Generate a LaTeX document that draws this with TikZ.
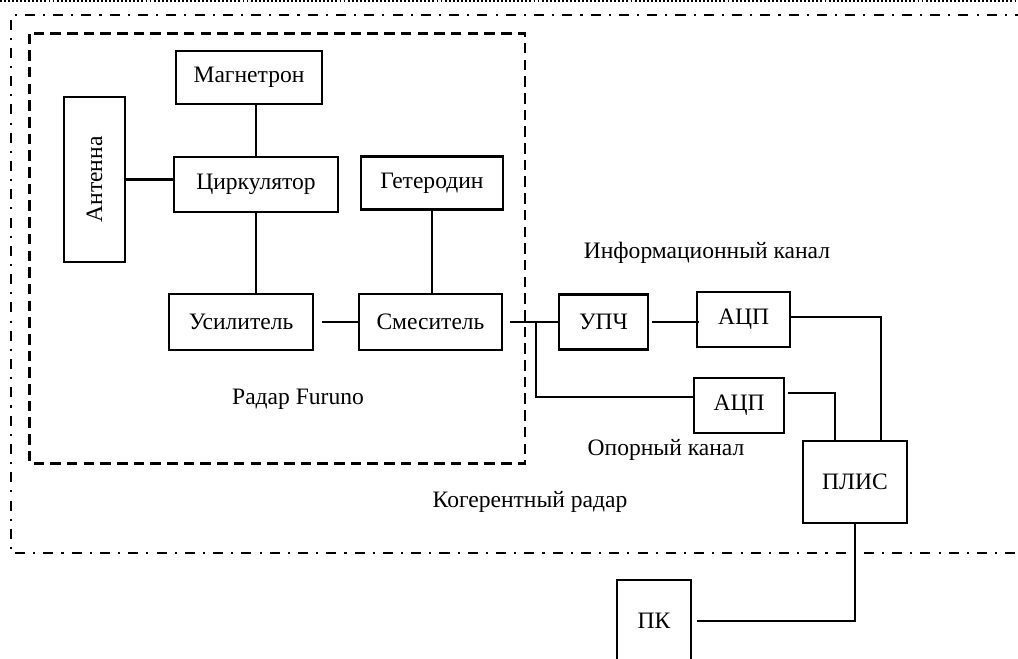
\documentclass[tikz,border=0pt]{standalone}
\usepackage{fontspec}
\setmainfont{Liberation Serif}
\begin{document}
\begin{tikzpicture}[font=\fontsize{13.4}{16}\selectfont, line width=1.6pt,
  blk/.style={draw, rectangle, inner sep=0pt},
  dashdot/.style={dash pattern=on 5.7pt off 4.6pt on 1.2pt off 4.6pt},
  boxdash/.style={dash pattern=on 6pt off 3.5pt}]
\useasboundingbox (0,0) rectangle (20.36,-13.16);
\draw[line width=1.1pt, dash pattern=on 1.1pt off 1.2pt] (0,-0.02) -- (20.36,-0.02);
\draw[dashdot] (20.5,-0.30) -- (0.22,-0.30) -- (0.22,-11.06) -- (20.5,-11.06);
\draw[boxdash] (0.59,-0.67) rectangle (10.5,-9.27);
\node[blk, minimum width=2.92cm, minimum height=1.06cm] (FuMag) at (4.98,-1.55) {Магнетрон};
\node[blk, minimum width=1.22cm, minimum height=3.30cm, label={[rotate=90]center:Антенна}] (FuAnt) at (1.89,-3.59) {};
\node[blk, minimum width=3.28cm, minimum height=1.10cm] (FuCirc) at (5.12,-3.69) {Циркулятор};
\node[blk, minimum width=2.84cm, minimum height=1.06cm] (FuHet) at (8.64,-3.66) {Гетеродин};
\node[blk, minimum width=2.88cm, minimum height=1.12cm] (FuAmp) at (4.82,-6.44) {Усилитель};
\node[blk, minimum width=2.86cm, minimum height=1.12cm] (FuMix) at (8.61,-6.44) {Смеситель};
\node[blk, minimum width=1.78cm, minimum height=1.10cm] (CrIF) at (12.07,-6.44) {УПЧ};
\node[blk, minimum width=1.86cm, minimum height=1.10cm] (CrADC1) at (14.87,-6.39) {АЦП};
\node[blk, minimum width=1.80cm, minimum height=1.10cm] (CrADC2) at (14.78,-8.11) {АЦП};
\node[blk, minimum width=2.08cm, minimum height=1.64cm] (CrFPGA) at (17.10,-9.64) {ПЛИС};
\node[blk, minimum width=1.48cm, minimum height=1.64cm] (PC) at (13.08,-12.42) {ПК};
\node (FuLbl) at (5.96,-7.98) {Радар Furuno};
\node (InfLbl) at (14.14,-5.06) {Информационный канал};
\node (RefLbl) at (13.32,-9.0) {Опорный канал};
\node (CohLbl) at (10.6,-10.04) {Когерентный радар};
\coordinate (Split) at (10.72,-6.44);
\draw (FuCirc.north) -- (FuCirc.north |- FuMag.south);
\draw (FuAnt.east) -- (FuAnt.east -| FuCirc.west);
\draw (FuCirc.south) -- (FuCirc.south |- FuAmp.north);
\draw (FuHet.south) -- (FuHet.south |- FuMix.north);
\draw ([xshift=0.16cm]FuAmp.east) -- (FuMix.west);
\draw ([xshift=0.14cm]FuMix.east) -- (CrIF.west);
\draw (Split) |- ([yshift=0.17cm]CrADC2.west);
\draw ([xshift=0.06cm]CrIF.east) -- ([xshift=0.06cm]CrIF.east -| CrADC1.west);
\draw ([yshift=0.05cm]CrADC1.east) -| ([xshift=0.52cm]CrFPGA.north);
\draw ([xshift=0.06cm,yshift=0.25cm]CrADC2.east) -| ([xshift=-0.40cm]CrFPGA.north);
\draw (CrFPGA.south) |- ([xshift=0.10cm]PC.east);
\end{tikzpicture}
\end{document}
